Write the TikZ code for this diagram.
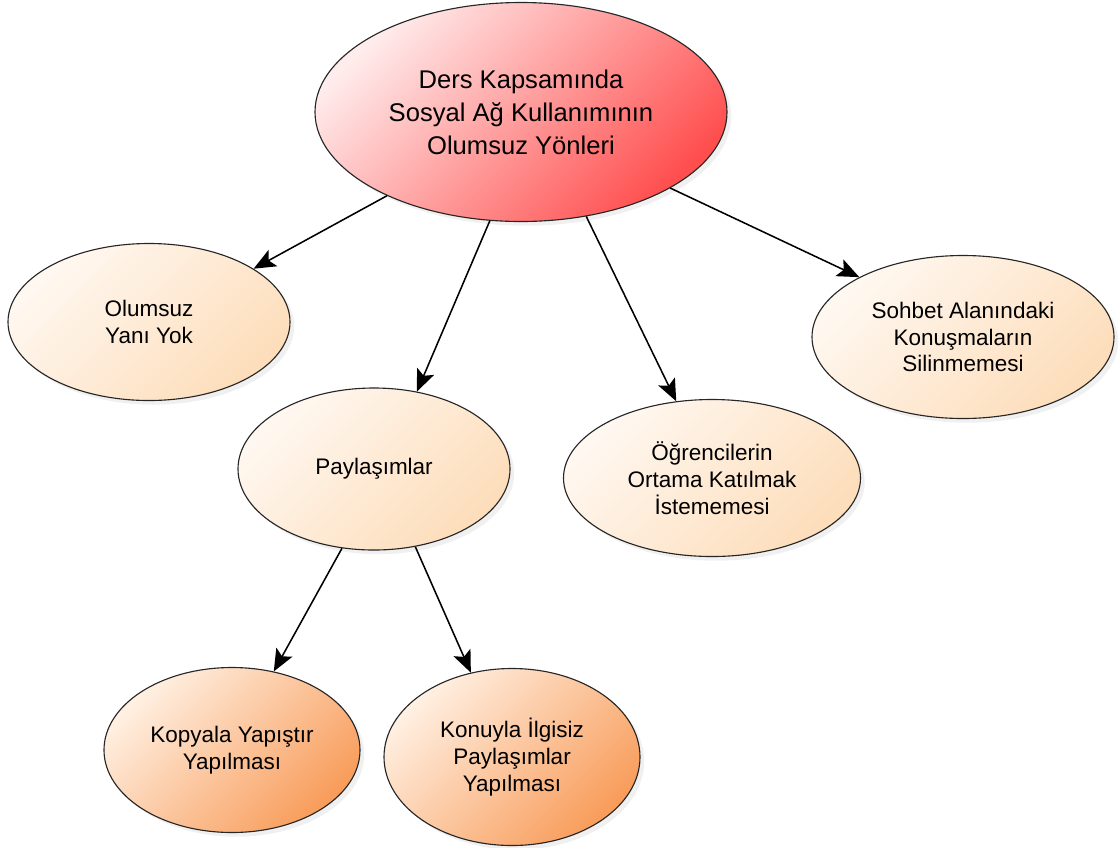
\documentclass[tikz,border=0pt]{standalone}
\usepackage{fontspec}
\setmainfont{Liberation Sans}
\usepackage{xcolor}
\usetikzlibrary{shapes.geometric, arrows.meta, shadows}
\definecolor{rootlight}{HTML}{FFECEC}
\definecolor{rootdark}{HTML}{FF4E4E}
\definecolor{leaflight}{HTML}{FFF8F1}
\definecolor{leafdark}{HTML}{FDDDBA}
\definecolor{lowlight}{HTML}{FFF0E2}
\definecolor{lowdark}{HTML}{F89C5A}

\begin{document}
\begin{tikzpicture}[
        ellipse,
        thick,
        bubble/.style = {ellipse, draw=black!85, line width=0.8pt, inner sep=0pt,
            align=center, font=\fontsize{16}{19}\selectfont,
            drop shadow={opacity=0.12, shadow xshift=3pt, shadow yshift=-3pt}},
        rootbubble/.style = {bubble, top color=rootlight, bottom color=rootdark,
            shading angle=45, font=\fontsize{18.2}{23.5}\selectfont},
        leafbubble/.style = {bubble, top color=leaflight, bottom color=leafdark,
            shading angle=45},
        lowbubble/.style = {bubble, top color=lowlight, bottom color=lowdark,
            shading angle=45},
        link/.style = {-{Stealth[length=5.5mm, width=4.6mm, inset=1.2mm]}, line width=1.1pt}]
        \useasboundingbox (0,0) rectangle (28,-21.175);
        % NODES
        % root
        \node[rootbubble, minimum width=10.3cm, minimum height=5.475cm] (root) at (13.025,-2.8)
            {Ders Kapsamında\\Sosyal Ağ Kullanımının\\Olumsuz Yönleri};
        % first level
        \node[leafbubble, minimum width=7.05cm, minimum height=3.925cm] (none) at (3.725,-8.05)
            {Olumsuz\\Yanı Yok};
        \node[leafbubble, minimum width=6.8cm, minimum height=4.05cm] (share) at (9.35,-11.725)
            {Paylaşımlar};
        \node[leafbubble, minimum width=7.425cm, minimum height=3.925cm] (pupils) at (17.8,-11.95)
            {Öğrencilerin\\Ortama Katılmak\\İstememesi};
        \node[leafbubble, minimum width=7.55cm, minimum height=4.075cm] (chat) at (24.075,-8.425)
            {Sohbet Alanındaki\\Konuşmaların\\Silinmemesi};
        % second level
        \node[lowbubble, minimum width=6.4cm, minimum height=4.125cm] (copy) at (5.8,-18.75)
            {Kopyala Yapıştır\\Yapılması};
        \node[lowbubble, minimum width=6.4cm, minimum height=4.425cm] (offtopic) at (12.8,-18.925)
            {Konuyla İlgisiz\\Paylaşımlar\\Yapılması};

        % ARROWS
        \draw[link] (root.212)--(none.27);
        \draw[link] (root.254)--(share.61);
        \draw[link] (root.302.6)--(pupils.115.5);
        \draw[link] (root.333)--(chat.150);
        \draw[link] (share.248)--(copy.62);
        \draw[link] (share.298.7)--(offtopic.116);
    \end{tikzpicture}
\end{document}
